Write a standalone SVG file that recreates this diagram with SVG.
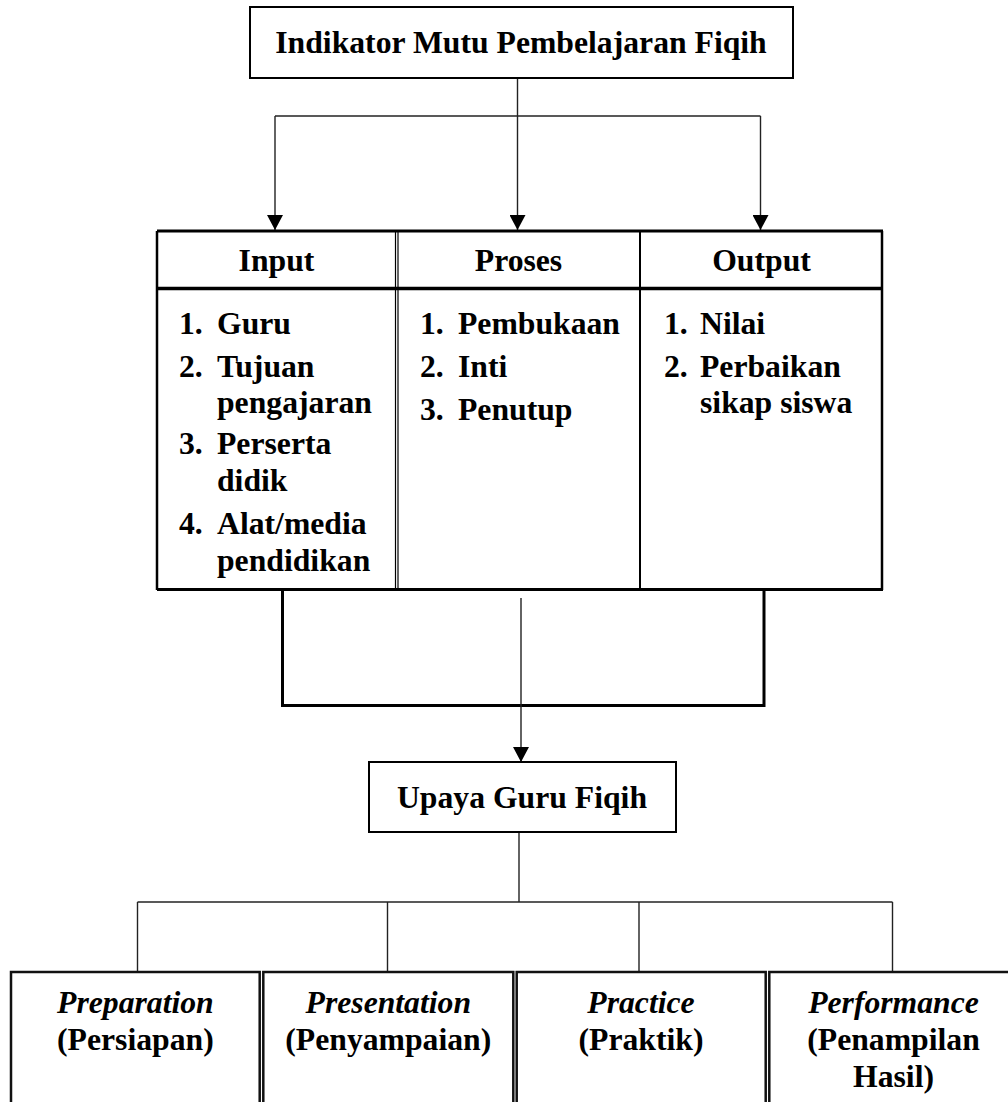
<svg xmlns="http://www.w3.org/2000/svg" width="1008" height="1102" viewBox="0 0 1008 1102">
<defs>
<style>
text{font-family:"Liberation Serif","Times New Roman",serif;font-weight:bold;font-size:31.7px;fill:#000}
.c{text-anchor:middle}
.i{font-style:italic}
.box{fill:#fff;stroke:#000;stroke-width:2}
.thin{fill:none;stroke:#222;stroke-width:1.4}
.thick{fill:none;stroke:#000;stroke-width:3}
.bb{fill:#fff;stroke:#111;stroke-width:2.5}
</style>
<marker id="arr" viewBox="0 0 15 16" refX="15" refY="8" markerWidth="15" markerHeight="16" markerUnits="userSpaceOnUse" orient="auto">
<path d="M0,0 L15,8 L0,16 z" fill="#000"/>
</marker>
</defs>

<g id="connectors">
<line class="thin" x1="517.5" y1="78" x2="517.5" y2="230" marker-end="url(#arr)"/>
<line class="thin" x1="275" y1="116" x2="760.5" y2="116"/>
<line class="thin" x1="275" y1="116" x2="275" y2="230" marker-end="url(#arr)"/>
<line class="thin" x1="760.5" y1="116" x2="760.5" y2="230" marker-end="url(#arr)"/>
<polyline class="thick" points="282.5,590 282.5,705.5 764,705.5 764,590"/>
<line class="thin" x1="521" y1="598" x2="521" y2="762" marker-end="url(#arr)"/>
<line class="thin" x1="519" y1="832" x2="519" y2="902"/>
<line class="thin" x1="137.5" y1="902" x2="892.5" y2="902"/>
<line class="thin" x1="137.5" y1="902" x2="137.5" y2="972"/>
<line class="thin" x1="387.5" y1="902" x2="387.5" y2="972"/>
<line class="thin" x1="639" y1="902" x2="639" y2="972"/>
<line class="thin" x1="892.5" y1="902" x2="892.5" y2="972"/>
</g>

<g id="indikator">
<rect class="box" x="250" y="7" width="543" height="71"/>
<text class="c" x="521" y="53">Indikator Mutu Pembelajaran Fiqih</text>
</g>

<g id="table">
<rect x="157" y="231" width="726" height="359" fill="#fff" stroke="none"/>
<line x1="157" y1="231" x2="883" y2="231" stroke="#000" stroke-width="3"/>
<line x1="157" y1="288.5" x2="883" y2="288.5" stroke="#000" stroke-width="3.5"/>
<line x1="157" y1="589.5" x2="883" y2="589.5" stroke="#000" stroke-width="3"/>
<line x1="157" y1="231" x2="157" y2="590" stroke="#000" stroke-width="2.5"/>
<line x1="882" y1="231" x2="882" y2="590" stroke="#000" stroke-width="2.5"/>
<line x1="395.5" y1="231" x2="395.5" y2="590" stroke="#000" stroke-width="1.2"/>
<line x1="398" y1="231" x2="398" y2="590" stroke="#000" stroke-width="1.2"/>
<line x1="640" y1="231" x2="640" y2="590" stroke="#000" stroke-width="2"/>
</g>

<g id="input">
<text class="c" x="276.5" y="271">Input</text>
<text x="179" y="334">1.</text><text x="217" y="334">Guru</text>
<text x="179" y="377">2.</text><text x="217" y="377">Tujuan</text>
<text x="217" y="413">pengajaran</text>
<text x="179" y="454">3.</text><text x="217" y="454">Perserta</text>
<text x="217" y="491">didik</text>
<text x="179" y="534">4.</text><text x="217" y="534">Alat/media</text>
<text x="217" y="571">pendidikan</text>
</g>

<g id="proses">
<text class="c" x="518.5" y="271">Proses</text>
<text x="420" y="334">1.</text><text x="458" y="334">Pembukaan</text>
<text x="420" y="377">2.</text><text x="458" y="377">Inti</text>
<text x="420" y="420">3.</text><text x="458" y="420">Penutup</text>
</g>

<g id="output">
<text class="c" x="761.5" y="271">Output</text>
<text x="664" y="334">1.</text><text x="700" y="334">Nilai</text>
<text x="664" y="377">2.</text><text x="700" y="377">Perbaikan</text>
<text x="700" y="413">sikap siswa</text>
</g>

<g id="upaya">
<rect class="box" x="369" y="762" width="307" height="70"/>
<text class="c" x="522" y="808">Upaya Guru Fiqih</text>
</g>

<g id="preparation">
<rect class="bb" x="11" y="972" width="248.7" height="150"/>
<text class="c i" x="135.4" y="1013">Preparation</text>
<text class="c" x="135.4" y="1050">(Persiapan)</text>
</g>

<g id="presentation">
<rect class="bb" x="263.3" y="972" width="250" height="150"/>
<text class="c i" x="388.3" y="1013">Presentation</text>
<text class="c" x="388.3" y="1050">(Penyampaian)</text>
</g>

<g id="practice">
<rect class="bb" x="516.7" y="972" width="249" height="150"/>
<text class="c i" x="641" y="1013">Practice</text>
<text class="c" x="641" y="1050">(Praktik)</text>
</g>

<g id="performance">
<rect class="bb" x="769.3" y="972" width="248.7" height="150"/>
<text class="c i" x="893.5" y="1013">Performance</text>
<text class="c" x="893.5" y="1050">(Penampilan</text>
<text class="c" x="893.5" y="1087">Hasil)</text>
</g>
</svg>
